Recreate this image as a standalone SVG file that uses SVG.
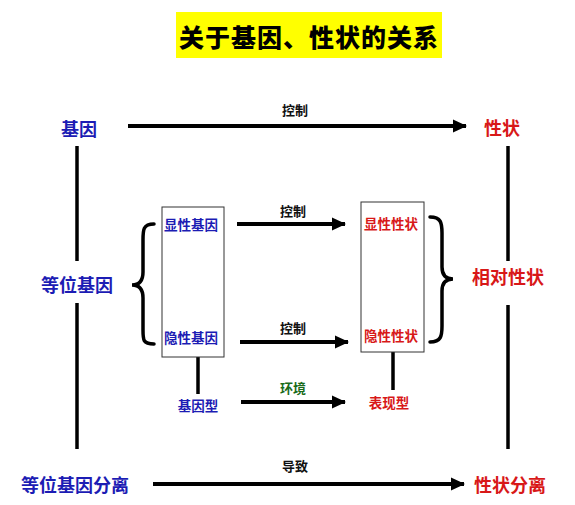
<svg xmlns="http://www.w3.org/2000/svg" width="575" height="505" viewBox="0 0 575 505">
<defs>
<marker id="ah" markerUnits="userSpaceOnUse" markerWidth="14" markerHeight="14" viewBox="0 0 14 14" refX="13" refY="7" orient="auto">
<path d="M0,0.5 L14,7 L0,13.5 Z" fill="#000"/>
</marker>
<style>
.big{font-family:"Noto Sans CJK SC",sans-serif;font-size:18px;font-weight:bold;dominant-baseline:central;text-anchor:middle}
.sm{font-family:"Noto Sans CJK SC",sans-serif;font-size:13.5px;font-weight:bold;dominant-baseline:central;text-anchor:middle}
.lbl{font-family:"Noto Sans CJK SC",sans-serif;font-size:13px;font-weight:bold;dominant-baseline:central;text-anchor:middle;fill:#111}
.blue{fill:#1c1cb4}
.red{fill:#d81818}
.green{fill:#1b6b1b}
.ln{stroke:#000;stroke-width:3.5;fill:none}
.arr{stroke:#000;stroke-width:4;fill:none;marker-end:url(#ah)}
.box{fill:#fff;stroke:#333;stroke-width:1}
.brace{stroke:#000;stroke-width:3.5;fill:none;stroke-linecap:round}
</style>
</defs>
<rect width="575" height="505" fill="#fff"/>
<g id="title">
<rect x="176" y="12" width="266" height="46" fill="#ffff00"/>
<text x="309" y="36" style="font-family:'Noto Sans CJK SC',sans-serif;font-size:25px;font-weight:900;dominant-baseline:central;text-anchor:middle;letter-spacing:1px" fill="#000">关于基因、性状的关系</text>
</g>
<g id="connectors">
<line class="arr" x1="128" y1="126" x2="466" y2="126"/>
<text class="lbl" x="295" y="109">控制</text>
<line class="ln" x1="77" y1="146" x2="77" y2="261"/>
<line class="ln" x1="77" y1="303" x2="77" y2="449"/>
<line class="ln" x1="508" y1="146" x2="508" y2="261"/>
<line class="ln" x1="508" y1="305" x2="508" y2="449"/>
<line class="arr" x1="153" y1="484" x2="464" y2="484"/>
<text class="lbl" x="295" y="465">导致</text>
<line class="arr" x1="237" y1="224" x2="345" y2="224"/>
<text class="lbl" x="293" y="210">控制</text>
<line class="arr" x1="240" y1="342" x2="348" y2="342"/>
<text class="lbl" x="293" y="327">控制</text>
<line class="arr" x1="241" y1="402" x2="345" y2="402"/>
<text class="lbl green" x="293" y="387">环境</text>
<line class="ln" x1="198" y1="357" x2="198" y2="394"/>
<line class="ln" x1="393" y1="352" x2="393" y2="390"/>
<path class="brace" d="M154,224 C143,224 143,230 143,240 L143,272 C143,281 139,285 132,285 C139,285 143,289 143,298 L143,330 C143,340 143,344 154,344"/>
<path class="brace" d="M430,217 C441,217 442,223 442,233 L442,267 C442,275 446,279 453,279 C446,279 442,283 442,291 L442,326 C442,336 441,342 430,342"/>
</g>
<g id="gene"><text class="big blue" x="79" y="128">基因</text></g>
<g id="trait"><text class="big red" x="502" y="127">性状</text></g>
<g id="allele"><text class="big blue" x="77" y="284">等位基因</text></g>
<g id="relative-trait"><text class="big red" x="508" y="276">相对性状</text></g>
<g id="allele-sep"><text class="big blue" x="75" y="484">等位基因分离</text></g>
<g id="trait-sep"><text class="big red" x="510" y="484">性状分离</text></g>
<g id="gene-box">
<rect class="box" x="162" y="207" width="62" height="150"/>
<text class="sm blue" x="191" y="224">显性基因</text>
<text class="sm blue" x="191" y="337">隐性基因</text>
</g>
<g id="trait-box">
<rect class="box" x="361" y="202" width="63" height="150"/>
<text class="sm red" x="391" y="223">显性性状</text>
<text class="sm red" x="391" y="335">隐性性状</text>
</g>
<g id="genotype"><text class="sm blue" x="198" y="405">基因型</text></g>
<g id="phenotype"><text class="sm red" x="389" y="402">表现型</text></g>
</svg>
